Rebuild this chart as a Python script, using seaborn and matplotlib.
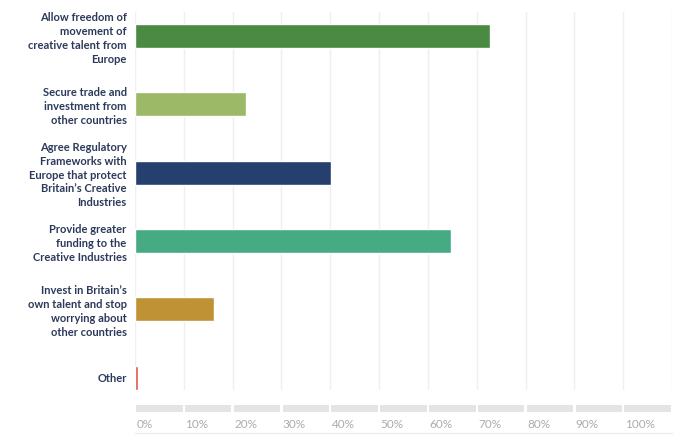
import numpy as np
import matplotlib
matplotlib.use("Agg")
import matplotlib.pyplot as plt
import seaborn as sns

# ==============================
# Data
# ==============================
answers = [
    "Allow freedom of\nmovement of\ncreative talent from\nEurope",
    "Secure trade and\ninvestment from\nother countries",
    "Agree Regulatory\nFrameworks with\nEurope that protect\nBritain\u2019s Creative\nIndustries",
    "Provide greater\nfunding to the\nCreative Industries",
    "Invest in Britain\u2019s\nown talent and stop\nworrying about\nother countries",
    "Other",
]
shares = [72.8, 22.7, 40.1, 64.8, 16.2, 0.6]
bar_colors = ["#4a8a43", "#9bb966", "#253f6e", "#46ab82", "#bf9236", "#d9574a"]
tick_values = [0, 10, 20, 30, 40, 50, 60, 70, 80, 90, 100]
tick_labels = ["0%", "10%", "20%", "30%", "40%", "50%", "60%", "70%", "80%", "90%", "100%"]

# ==============================
# Figure
# ==============================
sns.set_style("white")
plt.rcParams["font.family"] = ["Lato", "DejaVu Sans"]

W, H = 700, 446
fig = plt.figure(figsize=(7, 4.46), dpi=100)

def px_axes(x0, y0, x1, y1):
    return fig.add_axes([x0 / W, 1 - y1 / H, (x1 - x0) / W, (y1 - y0) / H])

ax = px_axes(135, 12, 672, 390)

sns.barplot(x=shares, y=answers, hue=answers, palette=bar_colors, orient="h",
            width=0.35, legend=False, ax=ax, saturation=1)

ax.set_xlim(0, 110)
ax.set_ylim(5.18, -0.35)
ax.set_xticks(np.arange(0, 111, 10))
ax.xaxis.grid(True, color="#efefef", linewidth=1)
ax.set_axisbelow(True)
ax.tick_params(axis="x", length=0, labelbottom=False)
ax.tick_params(axis="y", length=0, pad=6)
for lbl in ax.get_yticklabels():
    lbl.set_fontsize(8)
    lbl.set_fontweight("bold")
    lbl.set_color("#2b3a5a")
    lbl.set_linespacing(1.32)
    lbl.set_horizontalalignment("right")
ax.set_xlabel("")
ax.set_ylabel("")
sns.despine(ax=ax, left=True, bottom=True)

# ==============================
# Segmented ruler under the chart
# ==============================
rax = px_axes(135, 405, 672, 433)
rax.set_xlim(0, 110)
rax.set_ylim(0, 1)
for t, lab in zip(tick_values, tick_labels):
    rax.axvspan(t + 0.25, t + 9.75, ymin=0.75, ymax=1.0, color="#e4e4e4", lw=0)
    rax.text(t + 0.3, 0.3, lab, ha="left", va="center", fontsize=8.5, color="#ababab")
rax.set_xticks([])
rax.set_yticks([])
for side in ["top", "left", "right"]:
    rax.spines[side].set_visible(False)
rax.spines["bottom"].set_color("#ececec")
rax.spines["bottom"].set_linewidth(1)

plt.savefig("out.png", dpi=100)
